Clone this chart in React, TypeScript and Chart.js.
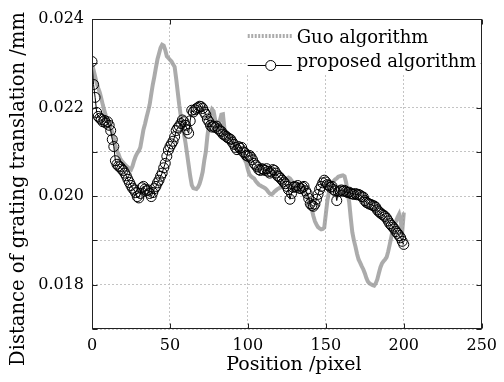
import React, { useEffect, useRef } from 'react';
import { Chart, registerables } from 'chart.js';

Chart.register(...registerables);

const FONT = 'DejaVu Serif';

// x positions (pixel index 0..200)
const positions: number[] = Array.from({ length: 201 }, (_, i) => i);

const legendLabels = ['Guo algorithm', 'proposed algorithm'];
const xTitle = 'Position /pixel';
const yTitle = 'Distance of grating translation /mm';

const guoValues: number[] = [
  0.02297, 0.02285, 0.02270, 0.02255, 0.02244, 0.02234, 0.02220, 0.02205, 0.02192, 0.02180,
  0.02170, 0.02162, 0.02152, 0.02145, 0.02130, 0.02115, 0.02102, 0.02095, 0.02085, 0.02080,
  0.02076, 0.02072, 0.02068, 0.02065, 0.02062, 0.02060, 0.02068, 0.02080, 0.02090, 0.02097,
  0.02102, 0.02110, 0.02130, 0.02150, 0.02163, 0.02178, 0.02192, 0.02207, 0.02230, 0.02252,
  0.02270, 0.02290, 0.02309, 0.02322, 0.02335, 0.02342, 0.02340, 0.02330, 0.02316, 0.02312,
  0.02308, 0.02304, 0.02298, 0.02292, 0.02265, 0.02235, 0.02205, 0.02180, 0.02158, 0.02140,
  0.02120, 0.02095, 0.02070, 0.02045, 0.02025, 0.02018, 0.02017, 0.02016, 0.02020, 0.02028,
  0.02040, 0.02055, 0.02080, 0.02100, 0.02135, 0.02162, 0.02185, 0.02196, 0.02192, 0.02172,
  0.02165, 0.02160, 0.02170, 0.02184, 0.02185, 0.02150, 0.02142, 0.02138, 0.02132, 0.02128,
  0.02124, 0.02118, 0.02112, 0.02104, 0.02100, 0.02098, 0.02094, 0.02088, 0.02082, 0.02075,
  0.02060, 0.02049, 0.02045, 0.02042, 0.02040, 0.02034, 0.02030, 0.02026, 0.02024, 0.02022,
  0.02020, 0.02018, 0.02015, 0.02010, 0.02006, 0.02004, 0.02006, 0.02010, 0.02013, 0.02016,
  0.02018, 0.02020, 0.02028, 0.02034, 0.02038, 0.02040, 0.02042, 0.02040, 0.02035, 0.02028,
  0.02024, 0.02022, 0.02025, 0.02020, 0.02018, 0.02016, 0.02014, 0.02008, 0.02000, 0.01990,
  0.01980, 0.01970, 0.01955, 0.01943, 0.01936, 0.01930, 0.01927, 0.01925, 0.01926, 0.01929,
  0.01960, 0.01990, 0.02010, 0.02026, 0.02030, 0.02034, 0.02038, 0.02040, 0.02044, 0.02045,
  0.02046, 0.02047, 0.02045, 0.02031, 0.02008, 0.01986, 0.01950, 0.01918, 0.01900, 0.01886,
  0.01870, 0.01857, 0.01850, 0.01842, 0.01835, 0.01826, 0.01815, 0.01807, 0.01803, 0.01801,
  0.01799, 0.01798, 0.01803, 0.01812, 0.01826, 0.01839, 0.01848, 0.01853, 0.01857, 0.01862,
  0.01875, 0.01891, 0.01908, 0.01925, 0.01935, 0.01943, 0.01952, 0.01959, 0.01943, 0.01920,
  0.01963,
];

const proposedValues: number[] = [
  0.02304, 0.02252, 0.02223, 0.02189, 0.02180, 0.02176, 0.02173, 0.02168, 0.02171, 0.02165,
  0.02168, 0.02160, 0.02148, 0.02128, 0.02112, 0.02080, 0.02072, 0.02068, 0.02066, 0.02061,
  0.02058, 0.02052, 0.02046, 0.02038, 0.02031, 0.02024, 0.02018, 0.02014, 0.02008, 0.01999,
  0.01996, 0.02006, 0.02019, 0.02022, 0.02016, 0.02012, 0.02014, 0.02006, 0.01999, 0.02008,
  0.02017, 0.02022, 0.02030, 0.02036, 0.02045, 0.02052, 0.02064, 0.02074, 0.02090, 0.02104,
  0.02112, 0.02118, 0.02124, 0.02134, 0.02148, 0.02154, 0.02158, 0.02164, 0.02172, 0.02168,
  0.02160, 0.02150, 0.02142, 0.02170, 0.02194, 0.02190, 0.02195, 0.02198, 0.02200, 0.02203,
  0.02202, 0.02198, 0.02190, 0.02184, 0.02174, 0.02168, 0.02160, 0.02156, 0.02158, 0.02155,
  0.02158, 0.02152, 0.02148, 0.02146, 0.02140, 0.02138, 0.02135, 0.02132, 0.02130, 0.02128,
  0.02122, 0.02117, 0.02110, 0.02105, 0.02112, 0.02108, 0.02110, 0.02100, 0.02098, 0.02092,
  0.02090, 0.02092, 0.02088, 0.02082, 0.02074, 0.02070, 0.02066, 0.02060, 0.02058, 0.02062,
  0.02060, 0.02058, 0.02062, 0.02056, 0.02052, 0.02055, 0.02060, 0.02058, 0.02052, 0.02046,
  0.02044, 0.02040, 0.02036, 0.02032, 0.02028, 0.02022, 0.02015, 0.01993, 0.02006, 0.02020,
  0.02022, 0.02020, 0.02024, 0.02018, 0.02017, 0.02020, 0.02022, 0.02012, 0.02006, 0.01995,
  0.01983, 0.01979, 0.01977, 0.01982, 0.01993, 0.02004, 0.02015, 0.02022, 0.02030, 0.02036,
  0.02032, 0.02026, 0.02024, 0.02020, 0.02022, 0.02015, 0.02012, 0.01990, 0.02010, 0.02012,
  0.02014, 0.02011, 0.02013, 0.02010, 0.02008, 0.02009, 0.02006, 0.02005, 0.02004, 0.02006,
  0.02003, 0.02004, 0.02002, 0.01999, 0.01998, 0.01990, 0.01986, 0.01984, 0.01982, 0.01981,
  0.01979, 0.01978, 0.01975, 0.01969, 0.01965, 0.01962, 0.01959, 0.01957, 0.01954, 0.01950,
  0.01944, 0.01938, 0.01934, 0.01930, 0.01926, 0.01920, 0.01916, 0.01911, 0.01906, 0.01898,
  0.01891,
];

const GUO_COLOR = 'rgba(150,150,150,0.8)';

const framePlugin = {
  id: 'frame',
  afterDraw(chart: any) {
    const { ctx, chartArea: a, scales } = chart;
    const L = Math.round(a.left) + 0.5;
    const R = Math.round(a.right) - 0.5;
    const T = Math.round(a.top) + 0.5;
    const B = Math.round(a.bottom) - 0.5;
    ctx.save();
    ctx.strokeStyle = '#222';
    ctx.lineWidth = 1;
    ctx.setLineDash([]);
    ctx.beginPath();
    scales.x.ticks.forEach((t: any) => {
      const px = Math.round(scales.x.getPixelForValue(t.value)) + 0.5;
      ctx.moveTo(px, B); ctx.lineTo(px, B - 5);
      ctx.moveTo(px, T); ctx.lineTo(px, T + 5);
    });
    scales.y.ticks.forEach((t: any) => {
      const py = Math.round(scales.y.getPixelForValue(t.value)) + 0.5;
      ctx.moveTo(L, py); ctx.lineTo(L + 5, py);
      ctx.moveTo(R, py); ctx.lineTo(R - 5, py);
    });
    ctx.stroke();

    // legend
    const lx = a.right - 236;
    const ly = a.top + 1;
    ctx.fillStyle = '#ffffff';
    ctx.fillRect(lx, ly, 235, 55);
    ctx.strokeStyle = GUO_COLOR;
    ctx.lineWidth = 4;
    ctx.setLineDash([2, 1.5]);
    ctx.beginPath();
    ctx.moveTo(lx + 2, ly + 16); ctx.lineTo(lx + 46, ly + 16);
    ctx.stroke();
    ctx.setLineDash([]);
    ctx.strokeStyle = '#000';
    ctx.lineWidth = 1;
    ctx.beginPath();
    ctx.moveTo(lx + 2, ly + 45.5); ctx.lineTo(lx + 46, ly + 45.5);
    ctx.stroke();
    ctx.fillStyle = '#fff';
    ctx.beginPath();
    ctx.arc(lx + 25, ly + 45.5, 5, 0, Math.PI * 2);
    ctx.fill();
    ctx.stroke();
    ctx.fillStyle = '#000';
    ctx.font = `18px "${FONT}"`;
    ctx.textBaseline = 'alphabetic';
    ctx.textAlign = 'left';
    ctx.fillText(legendLabels[0], lx + 51, ly + 23);
    ctx.fillText(legendLabels[1], lx + 51, ly + 47);

    ctx.strokeStyle = '#222';
    ctx.lineWidth = 1;
    ctx.strokeRect(L, T, R - L, B - T);

    // axis titles
    ctx.fillStyle = '#000';
    ctx.font = `19px "${FONT}"`;
    ctx.textAlign = 'center';
    ctx.textBaseline = 'alphabetic';
    ctx.fillText(xTitle, (a.left + a.right) / 2 + 7, a.bottom + 41);
    ctx.save();
    ctx.translate(24, (a.top + a.bottom) / 2 + 15);
    ctx.rotate(-Math.PI / 2);
    ctx.font = `19.5px "${FONT}"`;
    ctx.fillText(yTitle, 0, 0);
    ctx.restore();
    ctx.restore();
  },
};

export default function App() {
  const ref = useRef<HTMLCanvasElement | null>(null);
  useEffect(() => {
    if (!ref.current) return;
    Chart.defaults.font.family = FONT;
    Chart.defaults.color = '#000';
    const chart = new Chart(ref.current, {
      type: 'line',
      data: {
        datasets: [
          {
            label: legendLabels[1],
            data: positions.map((x, i) => ({ x, y: proposedValues[i] })),
            borderColor: '#000',
            borderWidth: 1,
            pointRadius: 5,
            pointBorderWidth: 1,
            pointBorderColor: '#000',
            pointBackgroundColor: 'rgba(0,0,0,0)',
            pointStyle: 'circle',
            tension: 0,
            order: 1,
          },
          {
            label: legendLabels[0],
            data: positions.map((x, i) => ({ x, y: guoValues[i] })),
            borderColor: GUO_COLOR,
            borderWidth: 4,
            pointRadius: 0,
            tension: 0,
            order: 2,
          },
        ],
      },
      options: {
        animation: false,
        responsive: true,
        maintainAspectRatio: false,
        layout: { padding: { left: 0, right: 21, top: 19, bottom: 0 } },
        plugins: {
          legend: { display: false },
          tooltip: { enabled: false },
        },
        scales: {
          x: {
            type: 'linear',
            min: 0,
            max: 250,
            ticks: { stepSize: 50, padding: 7, font: { size: 16, family: FONT }, color: '#000' },
            grid: { color: '#c4c4c4', lineWidth: 1, drawTicks: false },
            border: { display: false, dash: [2, 2] },
            title: { display: false },
            afterFit(scale: any) { scale.height = 53; },
          },
          y: {
            type: 'linear',
            min: 0.017,
            max: 0.024,
            ticks: {
              stepSize: 0.001,
              padding: 8,
              font: { size: 16, family: FONT },
              color: '#000',
              callback: (v: any) => {
                const k = Math.round(Number(v) * 1000);
                return k % 2 === 0 ? (k / 1000).toFixed(3) : '';
              },
            },
            grid: { color: '#c4c4c4', lineWidth: 1, drawTicks: false },
            border: { display: false, dash: [2, 2] },
            title: { display: false },
            afterFit(scale: any) { scale.width = 92; },
          },
        },
      },
      plugins: [framePlugin],
    });
    return () => chart.destroy();
  }, []);
  return (
    <div style={{ position: 'fixed', left: 0, top: 0, width: 504, height: 382, background: '#fff' }}>
      <canvas ref={ref} />
    </div>
  );
}
